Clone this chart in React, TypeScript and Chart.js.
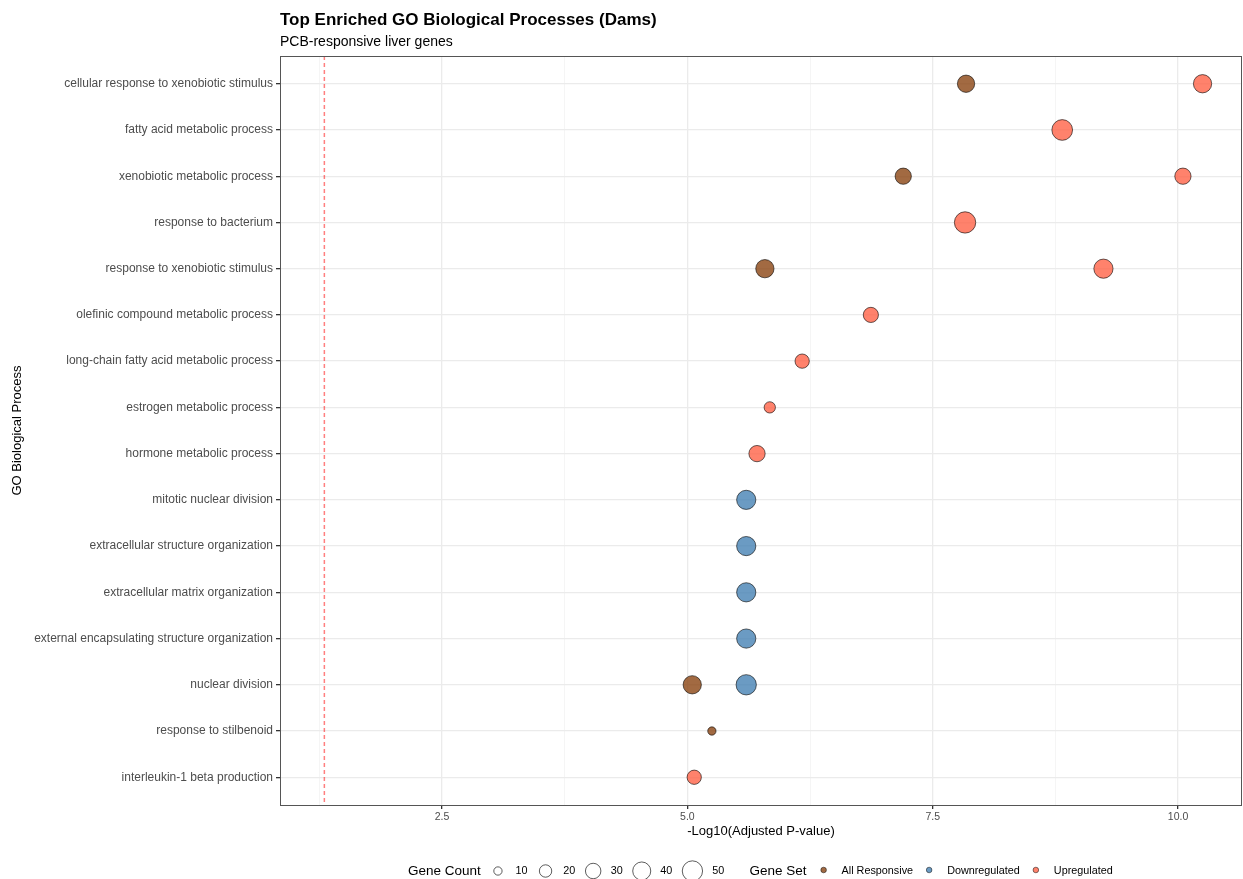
import { useEffect, useRef } from "react";
import { Chart, registerables } from "chart.js";

Chart.register(...registerables);

// GO terms, top to bottom
const terms = [
  "cellular response to xenobiotic stimulus",
  "fatty acid metabolic process",
  "xenobiotic metabolic process",
  "response to bacterium",
  "response to xenobiotic stimulus",
  "olefinic compound metabolic process",
  "long-chain fatty acid metabolic process",
  "estrogen metabolic process",
  "hormone metabolic process",
  "mitotic nuclear division",
  "extracellular structure organization",
  "extracellular matrix organization",
  "external encapsulating structure organization",
  "nuclear division",
  "response to stilbenoid",
  "interleukin-1 beta production",
];

// All Responsive gene set
const allResponsiveTerms = [
  "cellular response to xenobiotic stimulus",
  "xenobiotic metabolic process",
  "response to xenobiotic stimulus",
  "nuclear division",
  "response to stilbenoid",
];
const allResponsiveLogP = [7.84, 7.2, 5.79, 5.05, 5.25];
const allResponsiveCounts = [37, 33, 41, 41, 10];

// Downregulated gene set
const downregulatedTerms = [
  "mitotic nuclear division",
  "extracellular structure organization",
  "extracellular matrix organization",
  "external encapsulating structure organization",
  "nuclear division",
];
const downregulatedLogP = [5.6, 5.6, 5.6, 5.6, 5.6];
const downregulatedCounts = [45, 45, 45, 45, 50];

// Upregulated gene set
const upregulatedTerms = [
  "cellular response to xenobiotic stimulus",
  "fatty acid metabolic process",
  "xenobiotic metabolic process",
  "response to bacterium",
  "response to xenobiotic stimulus",
  "olefinic compound metabolic process",
  "long-chain fatty acid metabolic process",
  "estrogen metabolic process",
  "hormone metabolic process",
  "interleukin-1 beta production",
];
const upregulatedLogP = [10.25, 8.82, 10.05, 7.83, 9.24, 6.87, 6.17, 5.84, 5.71, 5.07];
const upregulatedCounts = [41, 52, 33, 55, 45, 29, 26, 17, 33, 26];

const geneSetNames = ["All Responsive", "Downregulated", "Upregulated"];
const geneSetColors = ["rgba(139,69,19,0.8)", "rgba(70,130,180,0.8)", "rgba(255,99,71,0.8)"];

const sizeBreaks = [10, 20, 30, 40, 50];
const xMajorTicks = [2.5, 5, 7.5, 10];
const xMinorTicks = [1.25, 3.75, 6.25, 8.75];
const significanceThreshold = -Math.log10(0.05);

const FONT = '"Liberation Sans", Arial, Helvetica, sans-serif';

// area-proportional size scale: gene count -> point radius (px)
const sizeScale = (count: number) => 1.5 * Math.sqrt(Math.max(count - 1, 0)) - 0.35;

const geneSets = [
  { terms: allResponsiveTerms, logP: allResponsiveLogP, counts: allResponsiveCounts },
  { terms: downregulatedTerms, logP: downregulatedLogP, counts: downregulatedCounts },
  { terms: upregulatedTerms, logP: upregulatedLogP, counts: upregulatedCounts },
];

const decorations = {
  id: "ggDecorations",
  beforeDatasetsDraw(chart: any) {
    const { ctx, chartArea } = chart;
    const x = chart.scales.x.getPixelForValue(significanceThreshold);
    ctx.save();
    ctx.strokeStyle = "rgba(255,0,0,0.5)";
    ctx.lineWidth = 1.5;
    ctx.setLineDash([4, 3]);
    ctx.beginPath();
    ctx.moveTo(x, chartArea.top);
    ctx.lineTo(x, chartArea.bottom);
    ctx.stroke();
    ctx.restore();
  },
  afterDraw(chart: any) {
    const { ctx, chartArea } = chart;
    const { left, right, top, bottom } = chartArea;
    ctx.save();

    // panel border
    ctx.strokeStyle = "#555";
    ctx.lineWidth = 1;
    ctx.strokeRect(left + 0.5, top + 0.5, right - left - 1, bottom - top);

    // titles
    ctx.fillStyle = "#000";
    ctx.textAlign = "left";
    ctx.textBaseline = "alphabetic";
    ctx.font = `bold 17px ${FONT}`;
    ctx.fillText("Top Enriched GO Biological Processes (Dams)", left, 25);
    ctx.font = `14px ${FONT}`;
    ctx.fillText("PCB-responsive liver genes", left, 46);

    // axis titles
    ctx.font = `13px ${FONT}`;
    ctx.textAlign = "center";
    ctx.textBaseline = "middle";
    ctx.fillText("-Log10(Adjusted P-value)", (left + right) / 2, 831);
    ctx.save();
    ctx.translate(17, (top + bottom) / 2);
    ctx.rotate(-Math.PI / 2);
    ctx.fillText("GO Biological Process", 0, 0);
    ctx.restore();

    // legends
    const ly = 871;
    let cursor = 408;
    ctx.textAlign = "left";
    ctx.textBaseline = "middle";
    ctx.font = `13.5px ${FONT}`;
    ctx.fillStyle = "#000";
    ctx.fillText("Gene Count", cursor, ly);
    cursor += ctx.measureText("Gene Count").width + 8.5;

    sizeBreaks.forEach((b) => {
      const r = sizeScale(b);
      const keyW = Math.max(17.3, 2 * r + 1.2);
      const cx = cursor + keyW / 2;
      ctx.beginPath();
      ctx.arc(cx, ly, r, 0, Math.PI * 2);
      ctx.strokeStyle = "rgba(0,0,0,0.8)";
      ctx.lineWidth = 0.8;
      ctx.stroke();
      const lx = cursor + keyW + 9;
      ctx.font = `10.8px ${FONT}`;
      ctx.fillStyle = "#000";
      const label = String(b);
      ctx.fillText(label, lx, ly);
      cursor = lx + ctx.measureText(label).width + 9.3;
    });

    cursor += 16;
    ctx.font = `13.5px ${FONT}`;
    ctx.fillText("Gene Set", cursor, ly);
    cursor += ctx.measureText("Gene Set").width + 8.5;

    geneSetNames.forEach((name, i) => {
      const cx = cursor + 8.6;
      ctx.beginPath();
      ctx.arc(cx, ly - 1, 2.8, 0, Math.PI * 2);
      ctx.fillStyle = geneSetColors[i];
      ctx.fill();
      ctx.strokeStyle = "rgba(0,0,0,0.8)";
      ctx.lineWidth = 0.6;
      ctx.stroke();
      const lx = cx + 18;
      ctx.font = `10.8px ${FONT}`;
      ctx.fillStyle = "#000";
      ctx.fillText(name, lx, ly);
      cursor = lx + ctx.measureText(name).width + 7.5;
    });

    ctx.restore();
  },
};

export default function App() {
  const canvasRef = useRef<HTMLCanvasElement | null>(null);

  useEffect(() => {
    if (!canvasRef.current) return;
    const isMajor = (v: number) => xMajorTicks.includes(v);

    const chart = new Chart(canvasRef.current, {
      type: "bubble",
      data: {
        datasets: geneSets.map((set, s) => ({
          label: geneSetNames[s],
          data: set.terms.map((t, i) => ({
            x: set.logP[i],
            y: terms.indexOf(t),
            r: sizeScale(set.counts[i]),
          })),
          backgroundColor: geneSetColors[s],
          borderColor: "rgba(0,0,0,0.85)",
          borderWidth: 0.7,
        })),
      },
      options: {
        responsive: false,
        animation: false,
        events: [],
        layout: { autoPadding: false, padding: { top: 56, left: 0, right: 1, bottom: 0 } },
        plugins: {
          legend: { display: false },
          tooltip: { enabled: false },
          title: { display: false },
        },
        scales: {
          x: {
            type: "linear",
            min: 0.849,
            max: 10.652,
            afterBuildTicks: (scale: any) => {
              scale.ticks = [...xMinorTicks, ...xMajorTicks]
                .sort((a, b) => a - b)
                .map((v) => ({ value: v }));
            },
            afterFit: (scale: any) => {
              scale.height = 74;
            },
            ticks: {
              autoSkip: false,
              maxRotation: 0,
              padding: 1.5,
              color: "#4d4d4d",
              font: { family: FONT, size: 10.5 },
              callback: (v: any) => (isMajor(Number(v)) ? Number(v).toFixed(1) : ""),
            },
            grid: {
              color: (c: any) => (c.tick && isMajor(c.tick.value) ? "#ebebeb" : "#f3f3f3"),
              lineWidth: (c: any) => (c.tick && isMajor(c.tick.value) ? 1.3 : 0.8),
              tickColor: (c: any) => (c.tick && isMajor(c.tick.value) ? "#333" : "rgba(0,0,0,0)"),
              tickLength: 4,
            },
            border: { display: false },
          },
          y: {
            type: "linear",
            reverse: true,
            min: -0.6,
            max: terms.length - 1 + 0.6,
            afterBuildTicks: (scale: any) => {
              scale.ticks = terms.map((_, i) => ({ value: i }));
            },
            afterFit: (scale: any) => {
              scale.width = 280;
            },
            ticks: {
              autoSkip: false,
              padding: 3,
              color: "#4d4d4d",
              font: { family: FONT, size: 12 },
              callback: (v: any) => terms[Number(v)] ?? "",
            },
            grid: {
              color: "#ebebeb",
              lineWidth: 1.3,
              tickColor: "#333",
              tickLength: 4,
            },
            border: { display: false },
          },
        },
      },
      plugins: [decorations],
    } as any);

    return () => chart.destroy();
  }, []);

  return (
    <div style={{ position: "fixed", left: 0, top: 0, width: 1243, height: 879, background: "#fff" }}>
      <canvas ref={canvasRef} width={1243} height={879} />
    </div>
  );
}
